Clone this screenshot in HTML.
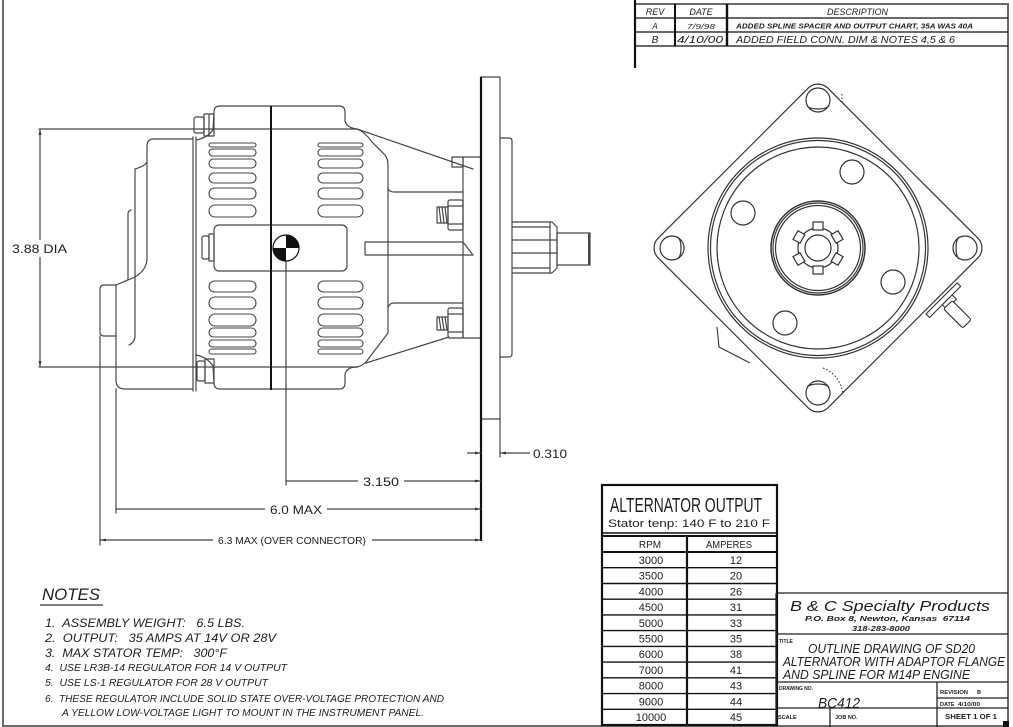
<!DOCTYPE html>
<html><head><meta charset="utf-8">
<style>
html,body{margin:0;padding:0;background:#fff;}
svg{display:block;}
text{font-family:"Liberation Sans",sans-serif;fill:#1e1e1e;}
.it{font-style:italic;}
</style></head><body>
<svg width="1013" height="727" viewBox="0 0 1013 727" xmlns="http://www.w3.org/2000/svg">
<rect width="1013" height="727" fill="#fff"/>

<!-- page border -->
<g fill="none" stroke="#6a6a6a" stroke-width="2">
  <path d="M3 0 V726 H1008 V4 H635"/>
</g>

<!-- revision table -->
<g fill="none" stroke="#111">
  <path d="M635 0 V68" stroke-width="2.2"/>
  <path d="M635 18 H1008 M635 32 H1008 M635 46 H1008" stroke-width="1.3"/>
  <path d="M675 4 V46" stroke-width="2"/>
  <path d="M727 4 V46" stroke-width="2.4"/>
</g>
<g class="it">
  <text x="655" y="15" font-size="9" text-anchor="middle">REV</text>
  <text x="701" y="15" font-size="9" text-anchor="middle">DATE</text>
  <text x="827" y="15" font-size="9" textLength="61" lengthAdjust="spacingAndGlyphs">DESCRIPTION</text>
  <text x="655" y="29" font-size="8" text-anchor="middle">A</text>
  <text x="687" y="29" font-size="7.5" textLength="28" lengthAdjust="spacingAndGlyphs">7/9/98</text>
  <text x="736" y="28.5" font-size="7" font-weight="bold" textLength="237" lengthAdjust="spacingAndGlyphs">ADDED SPLINE SPACER AND OUTPUT CHART, 35A WAS 40A</text>
  <text x="655" y="43" font-size="10" text-anchor="middle">B</text>
  <text x="677" y="43" font-size="10" textLength="46" lengthAdjust="spacingAndGlyphs">4/10/00</text>
  <text x="736" y="43" font-size="10" textLength="219" lengthAdjust="spacingAndGlyphs">ADDED FIELD CONN. DIM &amp; NOTES 4,5 &amp; 6</text>
</g>

<!-- ============ SIDE VIEW ============ -->
<g fill="none" stroke="#464646" stroke-width="1.2" stroke-linejoin="round" stroke-linecap="round">
  <path d="M39 129 H357 M39 367 H357"/>
  <path d="M193 139 H154 Q147 139 147 146 V258 Q147 270 135 277 L116 285 V380 Q116 389 125 389 H193"/>
  <path d="M147 162 Q145 166 135 169 V336 Q135 342 129 345"/>
  <path d="M131 210 Q128 211 128 214 V280"/>
  <path d="M116 285 H104 Q100 285 100 289 V332 Q100 336 104 336 H116"/>
  <path d="M100 336 V545 M116 389 V513"/>
  <path d="M193 137 V391 M196 137 V391"/>
  <path d="M196 140 Q207 138 213 130 L214 112 Q214 106 220 106 H339 Q345 106 345 112 V121 Q347 128 357 129 L473 169"/>
  <path d="M196 355 Q207 357 213 366 L214 383 Q214 389 220 389 H339 Q345 389 345 383 V374 Q347 367 357 367"/>
  <rect x="214" y="225" width="133" height="46" rx="5"/>
  <path d="M357 129 Q365 132 372 142 L385 155 Q388 159 388 165 V333 L366 362 Q362 366 357 367"/>
  <path d="M366 363 L449 337"/>
  <path d="M388 188 Q389 192 394 192 H463"/>
  <path d="M388 308 Q389 303 394 303 H463"/>
  <path d="M463 157 V338 H481 M463 157 H481"/>
  <rect x="452" y="157" width="11" height="10"/>
  <path d="M365 242 H463 L473 255 H365 Z"/>
  <rect x="194" y="117" width="10" height="16" rx="2"/>
  <rect x="204" y="114" width="10" height="22"/>
  <path d="M209 114 V136"/>
  <rect x="202" y="236" width="7" height="23" rx="2"/>
  <rect x="209" y="234" width="5" height="27"/>
  <rect x="197" y="361" width="8" height="20" rx="2"/>
  <rect x="205" y="359" width="9" height="24"/>
  <rect x="448" y="200" width="15" height="30" rx="2"/>
  <path d="M448 206 H463 M448 224 H463"/>
  <rect x="437" y="207" width="11" height="16"/>
  <path d="M439 207 L441 223 M442 207 L444 223 M445 207 L447 223"/>
  <rect x="448" y="308" width="15" height="30" rx="2"/>
  <path d="M448 314 H463 M448 332 H463"/>
  <rect x="437" y="317" width="11" height="13"/>
  <path d="M439 317 L441 330 M442 317 L444 330 M445 317 L447 330"/>
  <path d="M481 77 H500 V419 H481"/>
  <path d="M500 138 H509 Q512 138 512 141 V354 Q512 357 509 357 H500"/>
  <path d="M500 419 V457"/>
  <path d="M512 222 H552 L557 227 V268 L552 273 H512"/>
  <path d="M512 227 H550 M512 268 H550 M512 240 H557 M512 253 H557 M550 222 V273"/>
  <rect x="557" y="233" width="33" height="32"/>
  <path d="M589 234 V264" stroke-width="2"/>
  <path d="M286 248 V485"/>
</g>
<g fill="none" stroke="#464646" stroke-width="1.1">
  <rect x="209" y="143" width="47" height="4" rx="2"/>
  <rect x="209" y="149" width="47" height="7" rx="3.5"/>
  <rect x="209" y="159" width="47" height="9" rx="4.5"/>
  <rect x="209" y="173" width="47" height="10" rx="5"/>
  <rect x="209" y="188" width="47" height="11" rx="5.5"/>
  <rect x="209" y="205" width="47" height="12" rx="6"/>
  <rect x="209" y="281" width="47" height="11" rx="5.5"/>
  <rect x="209" y="297" width="47" height="12" rx="6"/>
  <rect x="209" y="314" width="47" height="12" rx="6"/>
  <rect x="209" y="328" width="47" height="9" rx="4.5"/>
  <rect x="209" y="340" width="47" height="7" rx="3.5"/>
  <rect x="209" y="349" width="47" height="5" rx="2.5"/>
  <rect x="318" y="143" width="45" height="4" rx="2"/>
  <rect x="318" y="149" width="45" height="7" rx="3.5"/>
  <rect x="318" y="159" width="45" height="9" rx="4.5"/>
  <rect x="318" y="173" width="45" height="10" rx="5"/>
  <rect x="318" y="188" width="45" height="11" rx="5.5"/>
  <rect x="318" y="205" width="45" height="12" rx="6"/>
  <rect x="318" y="281" width="45" height="11" rx="5.5"/>
  <rect x="318" y="297" width="45" height="12" rx="6"/>
  <rect x="318" y="314" width="45" height="12" rx="6"/>
  <rect x="318" y="328" width="45" height="9" rx="4.5"/>
  <rect x="318" y="340" width="45" height="7" rx="3.5"/>
  <rect x="318" y="349" width="45" height="5" rx="2.5"/>
</g>
<g stroke="#111" fill="none">
  <path d="M271 106 V390" stroke-width="2"/>
  <path d="M481 77 V541" stroke-width="2.2"/>
</g>
<circle cx="286" cy="248" r="13" fill="#fff" stroke="#111" stroke-width="1.2"/>
<path d="M286 248 V235 A13 13 0 0 1 299 248 Z" fill="#111"/>
<path d="M286 248 V261 A13 13 0 0 1 273 248 Z" fill="#111"/>

<!-- ============ DIMENSIONS ============ -->
<g fill="none" stroke="#464646" stroke-width="1.2">
  <path d="M40 129 V240 M40 257 V367"/>
  <path d="M467 453 H481 M500 453 H530"/>
  <path d="M286 481 H358 M404 481 H481"/>
  <path d="M116 509 H265 M327 509 H481"/>
  <path d="M100 540 H213 M372 540 H481"/>
</g>
<g fill="#333">
  <polygon points="40,129 38.6,135 41.4,135"/>
  <polygon points="40,367 38.6,361 41.4,361"/>
  <polygon points="481,453 475,451.6 475,454.4"/>
  <polygon points="500,453 506,451.6 506,454.4"/>
  <polygon points="481,481 475,479.6 475,482.4"/>
  <polygon points="481,509 475,507.6 475,510.4"/>
  <polygon points="100,540 106,538.6 106,541.4"/>
  <polygon points="481,540 475,538.6 475,541.4"/>
</g>
<text x="12" y="253" font-size="12" textLength="55" lengthAdjust="spacingAndGlyphs">3.88 DIA</text>
<text x="533" y="458" font-size="12" textLength="34" lengthAdjust="spacingAndGlyphs">0.310</text>
<text x="363" y="486" font-size="12" textLength="36" lengthAdjust="spacingAndGlyphs">3.150</text>
<text x="270" y="514" font-size="12" textLength="52" lengthAdjust="spacingAndGlyphs">6.0 MAX</text>
<text x="218" y="544" font-size="10" textLength="148" lengthAdjust="spacingAndGlyphs">6.3 MAX (OVER CONNECTOR)</text>

<!-- ============ FLANGE END VIEW ============ -->
<g fill="none" stroke="#333" stroke-width="1.2" transform="translate(818,248)">
  <rect x="-120" y="-120" width="240" height="240" rx="14" transform="rotate(45)"/>
  <circle cx="0" cy="-148" r="12"/>
  <path d="M-11 -142 A12 5 0 0 0 11 -142"/>
  <circle cx="0" cy="145" r="12"/>
  <path d="M-11 139 A12 5 0 0 1 11 139"/>
  <circle cx="-146" cy="0" r="12"/>
  <path d="M-140 -11 A5 12 0 0 1 -140 11"/>
  <circle cx="147" cy="0" r="12"/>
  <path d="M141 -11 A5 12 0 0 0 141 11"/>
  <circle r="110"/>
  <circle r="107.5"/>
  <circle r="101"/>
  <circle cx="34" cy="-76" r="12"/>
  <circle cx="-75" cy="-35" r="12"/>
  <circle cx="75" cy="34" r="12"/>
  <circle cx="-33" cy="75" r="12"/>
  <circle r="47" stroke-width="1.5"/>
  <circle r="45"/>
  <circle r="42.5"/>
  <circle r="20"/>
  <g fill="#fff">
    <rect x="18" y="-5" width="8" height="10" transform="rotate(-90)"/>
    <rect x="18" y="-5" width="8" height="10" transform="rotate(-30)"/>
    <rect x="18" y="-5" width="8" height="10" transform="rotate(30)"/>
    <rect x="18" y="-5" width="8" height="10" transform="rotate(90)"/>
    <rect x="18" y="-5" width="8" height="10" transform="rotate(150)"/>
    <rect x="18" y="-5" width="8" height="10" transform="rotate(210)"/>
  </g>
  <circle r="13"/>
</g>
<g fill="#fff" stroke="#333" stroke-width="1.1" transform="translate(943,297) rotate(-45)">
  <rect x="-24" y="0" width="44" height="5"/>
  <rect x="-6" y="5" width="14" height="6"/>
  <rect x="-8" y="9" width="12" height="27" rx="2"/>
</g>
<g fill="none" stroke="#333" stroke-width="1.1">
  <path d="M717 327 L719 347 L750 363"/>
  <path d="M823 368 Q839 374 843 393" stroke-dasharray="1.5 2"/>
  <path d="M842 94 V103" stroke-dasharray="1.5 2"/>
</g>

<!-- ============ OUTPUT TABLE ============ -->
<g fill="none" stroke="#111">
  <rect x="602" y="485" width="175" height="240" stroke-width="2.2"/>
  <path d="M602 533 H777" stroke-width="1.5"/>
  <path d="M602 536 H777" stroke-width="2"/>
  <path d="M602 552 H777" stroke-width="2"/>
  <path d="M687 536 V725" stroke-width="2.2"/>
  <path d="M602 567.7 H777 M602 583.5 H777 M602 599.2 H777 M602 614.9 H777 M602 630.6 H777 M602 646.4 H777 M602 662.1 H777 M602 677.8 H777 M602 693.6 H777 M602 709.3 H777" stroke-width="1.4"/>
</g>
<text x="610" y="512" font-size="20" textLength="152" lengthAdjust="spacingAndGlyphs">ALTERNATOR OUTPUT</text>
<text x="608" y="527" font-size="11" textLength="162" lengthAdjust="spacingAndGlyphs">Stator tenp: 140 F to 210 F</text>
<g font-size="10" text-anchor="middle">
  <text x="650" y="548">RPM</text>
  <text x="729" y="548" textLength="46" lengthAdjust="spacingAndGlyphs">AMPERES</text>
</g>
<g font-size="11" text-anchor="middle">
  <text x="651" y="564">3000</text><text x="736" y="564">12</text>
  <text x="651" y="579.7">3500</text><text x="736" y="579.7">20</text>
  <text x="651" y="595.4">4000</text><text x="736" y="595.4">26</text>
  <text x="651" y="611.1">4500</text><text x="736" y="611.1">31</text>
  <text x="651" y="626.8">5000</text><text x="736" y="626.8">33</text>
  <text x="651" y="642.5">5500</text><text x="736" y="642.5">35</text>
  <text x="651" y="658.2">6000</text><text x="736" y="658.2">38</text>
  <text x="651" y="673.9">7000</text><text x="736" y="673.9">41</text>
  <text x="651" y="689.6">8000</text><text x="736" y="689.6">43</text>
  <text x="651" y="705.3">9000</text><text x="736" y="705.3">44</text>
  <text x="651" y="721">10000</text><text x="736" y="721">45</text>
</g>

<!-- ============ TITLE BLOCK ============ -->
<g fill="none" stroke="#222" stroke-width="1.3">
  <path d="M776 593 V727 M776 593 H1008 M776 634 H1008 M776 682 H1008 M937 682 V727 M937 698 H1008 M776 708 H1008 M830 708 V727"/>
</g>
<rect x="1003" y="721" width="6" height="6" fill="#111"/>
<text class="it" x="790" y="611" font-size="15" textLength="200" lengthAdjust="spacingAndGlyphs">B &amp; C Specialty Products</text>
<text class="it" x="805" y="621" font-size="7.5" font-weight="bold" textLength="165" lengthAdjust="spacingAndGlyphs">P.O. Box 8, Newton, Kansas&#160;&#160;67114</text>
<text class="it" x="852" y="631" font-size="7.5" font-weight="bold" textLength="58" lengthAdjust="spacingAndGlyphs">318-283-8000</text>
<text x="779" y="643" font-size="5" font-weight="bold">TITLE</text>
<text class="it" x="808" y="653" font-size="13" textLength="167" lengthAdjust="spacingAndGlyphs">OUTLINE DRAWING OF SD20</text>
<text class="it" x="783" y="666" font-size="13" textLength="222" lengthAdjust="spacingAndGlyphs">ALTERNATOR WITH ADAPTOR FLANGE</text>
<text class="it" x="783" y="679" font-size="13" textLength="187" lengthAdjust="spacingAndGlyphs">AND SPLINE FOR M14P ENGINE</text>
<text x="779" y="690" font-size="5" font-weight="bold" textLength="34" lengthAdjust="spacingAndGlyphs">DRAWING NO.</text>
<text class="it" x="818" y="708" font-size="15" textLength="42" lengthAdjust="spacingAndGlyphs">BC412</text>
<text x="940" y="694" font-size="5.5" font-weight="bold" textLength="28" lengthAdjust="spacingAndGlyphs">REVISION</text>
<text x="977" y="694" font-size="5.5" font-weight="bold">B</text>
<text x="940" y="706" font-size="5.5" font-weight="bold">DATE</text>
<text x="958" y="706" font-size="5.5" font-weight="bold" textLength="22" lengthAdjust="spacingAndGlyphs">4/10/00</text>
<text x="778" y="719" font-size="5.5" font-weight="bold">SCALE</text>
<text x="835" y="719" font-size="5.5" font-weight="bold">JOB NO.</text>
<text x="945" y="719" font-size="7.5" font-weight="bold" textLength="52" lengthAdjust="spacingAndGlyphs">SHEET 1 OF 1</text>

<!-- ============ NOTES ============ -->
<text class="it" x="42" y="600" font-size="17" textLength="58" lengthAdjust="spacingAndGlyphs">NOTES</text>
<path d="M40 605 H103" stroke="#333" stroke-width="1.2" fill="none"/>
<g class="it">
  <text x="45" y="627" font-size="12" textLength="200" lengthAdjust="spacingAndGlyphs">1.&#160; ASSEMBLY WEIGHT:&#160;&#160; 6.5 LBS.</text>
  <text x="45" y="642" font-size="12" textLength="231" lengthAdjust="spacingAndGlyphs">2.&#160; OUTPUT:&#160;&#160; 35 AMPS AT 14V OR 28V</text>
  <text x="45" y="657" font-size="12" textLength="182" lengthAdjust="spacingAndGlyphs">3.&#160; MAX STATOR TEMP:&#160;&#160; 300°F</text>
  <text x="45" y="671" font-size="10" textLength="242" lengthAdjust="spacingAndGlyphs">4.&#160; USE LR3B-14 REGULATOR FOR 14 V OUTPUT</text>
  <text x="45" y="686" font-size="10" textLength="223" lengthAdjust="spacingAndGlyphs">5.&#160; USE LS-1 REGULATOR FOR 28 V OUTPUT</text>
  <text x="45" y="702" font-size="10" textLength="399" lengthAdjust="spacingAndGlyphs">6.&#160; THESE REGULATOR INCLUDE SOLID STATE OVER-VOLTAGE PROTECTION AND</text>
  <text x="62" y="716" font-size="10" textLength="362" lengthAdjust="spacingAndGlyphs">A YELLOW LOW-VOLTAGE LIGHT TO MOUNT IN THE INSTRUMENT PANEL.</text>
</g>
</svg>
</body></html>
